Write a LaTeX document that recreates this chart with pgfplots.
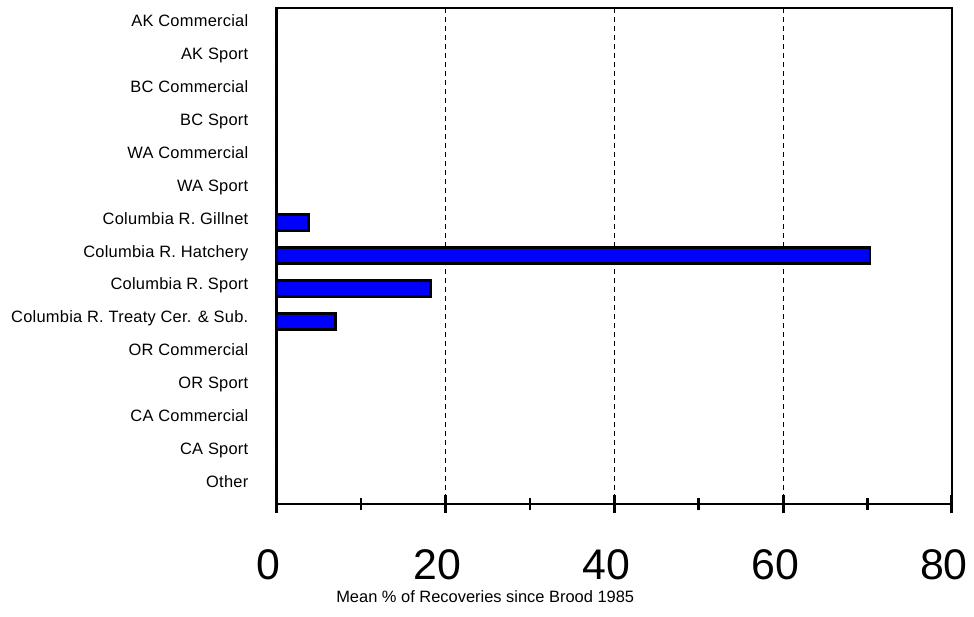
\documentclass[border=0pt]{standalone}
\usepackage{fontspec}
\setmainfont{Liberation Sans}
\usepackage{pgfplots}
\pgfplotsset{compat=1.18}

\definecolor{barblue}{RGB}{0,0,255}

\begin{document}
\begin{tikzpicture}
\path[use as bounding box] (-276.5bp,-113bp) rectangle (697.5bp,504bp);
\begin{axis}[
    scale only axis,
    width=675.5bp, height=496bp,
    xbar, bar width=0.48,
    xmin=0, xmax=80,
    ymin=-0.52, ymax=14.55,
    y dir=reverse,
    /pgf/number format/assume math mode=true,
    xtick={0,20,40,60,80},
    minor xtick={10,30,50,70},
    xtick pos=left,
    tick align=center,
    major tick length=18bp,
    minor tick length=12bp,
    major tick style={line width=3bp, black},
    minor tick style={line width=2.5bp, black},
    xmajorgrids,
    grid style={black, line width=0.6bp, dash pattern=on 5bp off 4bp},
    axis line style={line width=2.5bp},
    xticklabel style={font=\fontsize{43}{43}\selectfont, inner sep=0pt,
        anchor=north, yshift=-36bp, xshift=-8bp},
    ytick={0,...,14},
    yticklabels={AK Commercial, AK Sport, BC Commercial, BC Sport,
        WA Commercial, WA Sport, Columbia R. Gillnet, Columbia R. Hatchery,
        Columbia R. Sport, Columbia R. Treaty Cer. \& Sub., OR Commercial,
        OR Sport, CA Commercial, CA Sport, Other},
    ytick style={draw=none},
    yticklabel style={font=\fontsize{16.5}{19}\selectfont\addfontfeature{LetterSpace=1.5},
        inner sep=0pt, anchor=base east, xshift=-19bp, yshift=-1.5bp},
    xlabel={Mean \% of Recoveries since Brood 1985},
    xlabel style={font=\fontsize{16.5}{19}\selectfont, at={(rel axis cs:0.309,0)},
        anchor=center, yshift=-93bp},
]
\addplot[fill=barblue, draw=black, line width=2.8bp] coordinates {
    (0,0) (0,1) (0,2) (0,3) (0,4) (0,5)
    (3.8,6) (70.3,7) (18.2,8) (7.0,9)
    (0,10) (0,11) (0,12) (0,13) (0,14)
};
\end{axis}
\end{tikzpicture}
\end{document}
